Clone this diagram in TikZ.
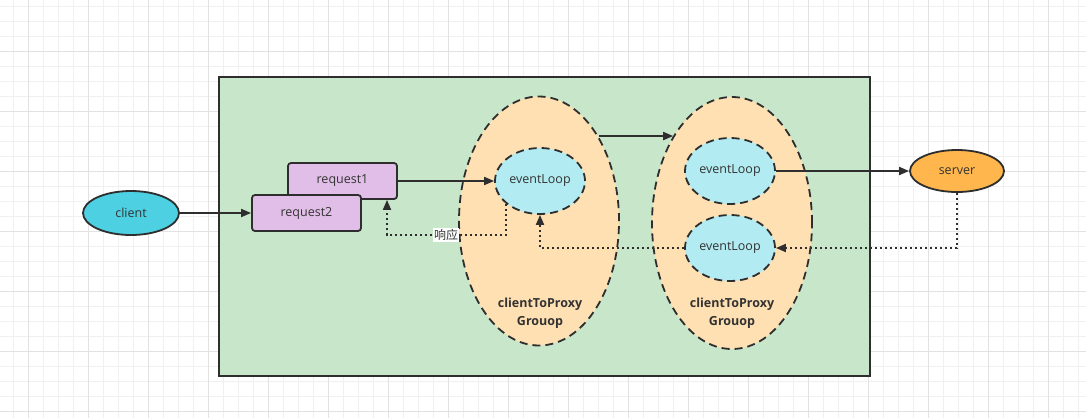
\documentclass[tikz,border=0pt]{standalone}
\usepackage{fontspec}
\setmainfont{Open Sans}
\newfontfamily\cjk{Noto Sans CJK SC}
\usetikzlibrary{shapes.geometric,arrows.meta}
\definecolor{gridminor}{HTML}{F0F0F0}
\definecolor{gridmajor}{HTML}{E2E2E2}
\definecolor{boxgreen}{HTML}{C8E6C9}
\definecolor{grporange}{HTML}{FFE0B2}
\definecolor{loopcyan}{HTML}{B2EBF2}
\definecolor{clientcyan}{HTML}{4DD0E1}
\definecolor{reqpurple}{HTML}{E1BEE7}
\definecolor{serverorange}{HTML}{FFB74D}
\definecolor{edge}{HTML}{2E2E2E}
\definecolor{txt}{HTML}{333333}
\tikzset{
  lbl/.style={text=txt,font=\fontsize{12.5}{14}\selectfont},
  grp/.style={ellipse,draw=edge,line width=1.8pt,dash pattern=on 8pt off 5pt,fill=grporange,inner sep=0pt},
  loopnode/.style={ellipse,draw=edge,line width=1.8pt,dash pattern=on 8pt off 5pt,fill=loopcyan,inner sep=0pt,minimum width=90pt,minimum height=66pt,lbl},
  reqbox/.style={rectangle,rounded corners=3pt,draw=edge,line width=1.8pt,fill=reqpurple,minimum width=109pt,minimum height=36pt,inner sep=0pt,lbl},
  endnode/.style={ellipse,draw=edge,line width=1.8pt,inner sep=0pt,lbl},
  solidarrow/.style={draw=edge,line width=1.8pt,-{Triangle[length=10pt,width=8pt]}},
  dotarrow/.style={draw=edge,line width=1.8pt,dash pattern=on 2pt off 3pt,-{Triangle[length=10pt,width=8pt]}},
  grptext/.style={text=txt,font=\bfseries\fontsize{12.5}{18}\selectfont,align=center}
}
\begin{document}
\begin{tikzpicture}[x=1pt,y=-1pt]
\useasboundingbox (0,0) rectangle (1086,418);
\fill[white] (0,0) rectangle (1086,418);
% grid
\foreach \i in {0,...,72} {
  \pgfmathsetmacro{\gx}{13.3+15*\i}
  \draw[gridminor,line width=1pt] (\gx,0) -- (\gx,418);
}
\foreach \i in {0,...,28} {
  \pgfmathsetmacro{\gy}{6.7+15*\i}
  \draw[gridminor,line width=1pt] (0,\gy) -- (1086,\gy);
}
\foreach \i in {0,...,17} {
  \pgfmathsetmacro{\gx}{28.3+60*\i}
  \draw[gridmajor,line width=1pt] (\gx,0) -- (\gx,418);
}
\foreach \i in {0,...,6} {
  \pgfmathsetmacro{\gy}{51.7+60*\i}
  \draw[gridmajor,line width=1pt] (0,\gy) -- (1086,\gy);
}
% container
\node[rectangle,draw=edge,line width=1.8pt,fill=boxgreen,minimum width=651pt,minimum height=299pt,inner sep=0pt] (box) at (544.5,226.5) {};
% groups
\node[grp,minimum width=160pt,minimum height=249pt] (g1) at (539,221) {};
\node[grp,minimum width=160pt,minimum height=252pt] (g2) at (732,223) {};
\node[grptext] (g1t) at (540,313) {clientToProxy\\Grouop};
\node[grptext] (g2t) at (732,313) {clientToProxy\\Grouop};
% event loops
\node[loopnode] (e1) at (540,181) {eventLoop};
\node[loopnode] (e2) at (730,171) {eventLoop};
\node[loopnode] (e3) at (730,248) {eventLoop};
% requests
\node[reqbox] (r1) at (342.5,181) {request1};
\node[reqbox] (r2) at (306.5,213) {request2};
% client and server
\node[endnode,fill=clientcyan,minimum width=96pt,minimum height=44pt] (cl) at (131,213) {client};
\node[endnode,fill=serverorange,minimum width=94pt,minimum height=42pt] (sv) at (957,171) {server};
% solid arrows
\draw[solidarrow] (cl.east) -- (r2.west);
\draw[solidarrow] (r1.east) -- (e1.west);
\draw[solidarrow] (g1.55) -- (g1.55 -| g2.124);
\draw[solidarrow] (e2.east) -- (sv.west);
% dotted arrows
\draw[dotarrow] (sv.south) |- (e3.east);
\draw[dotarrow] (e3.west) -| (e1.south);
\coordinate (rc) at (387,235);
\draw[dotarrow] (e1.214) |- (rc) -- (rc |- r1.south);
\node[fill=white,inner sep=1pt,text=txt,font=\cjk\fontsize{12}{14}\selectfont] (resp) at (446,235) {响应};
\end{tikzpicture}
\end{document}
